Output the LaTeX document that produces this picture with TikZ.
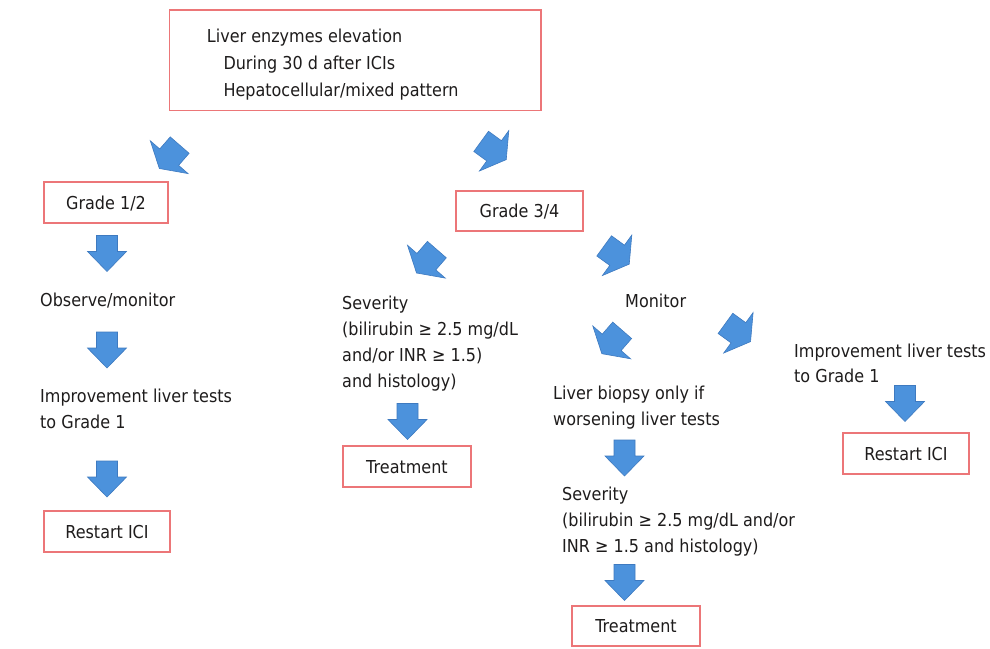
\documentclass[tikz,border=0pt]{standalone}
\usepackage{fontspec}
\setmainfont{DejaVu Sans}[FakeStretch=0.9]
\definecolor{boxc}{RGB}{236,118,120}
\definecolor{arrowc}{RGB}{76,146,220}
\definecolor{arrowd}{RGB}{62,122,192}
\definecolor{textc}{RGB}{30,28,28}
\tikzset{
  txt/.style={anchor=base west, inner sep=0pt, text=textc, font=\fontsize{17.8}{26}\selectfont},
  redbox/.style={draw=boxc, line width=1.5pt, fill=white, inner sep=0pt, text=textc,
    text height=13pt, text depth=0pt, align=center, font=\fontsize{17.8}{26}\selectfont},
  blk/.style={fill=arrowc, draw=arrowd, line width=0.6pt, line join=miter},
  downarrow/.pic={\path[blk] (-10.5,-18) -- (10.5,-18) -- (10.5,-2) -- (19.5,-2) -- (0,18) -- (-19.5,-2) -- (-10.5,-2) -- cycle;},
  diagarrow/.pic={\path[blk] (-12.5,-15.5) -- (12.5,-15.5) -- (12.5,0.5) -- (25,0.5) -- (0,15.5) -- (-25,0.5) -- (-12.5,0.5) -- cycle;}
}
\begin{document}
\begin{tikzpicture}[x=1pt,y=-1pt]
\useasboundingbox (0,0) rectangle (990,648);
\fill[white] (0,0) rectangle (990,648);

% top box
\node[redbox, minimum width=371.7pt, minimum height=100.7pt] (top) at (355.2,60.35) {};
\node[txt] (top1) at (206.7,42.7) {Liver enzymes elevation};
\node[txt] (top2) at (223.3,69.3) {During 30 d after ICIs};
\node[txt] (top3) at (223.3,96) {Hepatocellular/mixed pattern};

% boxes
\node[redbox, minimum width=124pt, minimum height=41pt] (g12) at (106,202.5) {Grade 1/2};
\node[redbox, minimum width=127pt, minimum height=40pt] (g34) at (519.5,211) {Grade 3/4};
\node[redbox, minimum width=126pt, minimum height=41pt] (rL) at (107,531.5) {Restart ICI};
\node[redbox, minimum width=128pt, minimum height=41pt] (tL) at (407,466.5) {Treatment};
\node[redbox, minimum width=128pt, minimum height=40pt] (tR) at (636,626) {Treatment};
\node[redbox, minimum width=126pt, minimum height=41pt] (rR) at (906,453.5) {Restart ICI};

% free texts
\node[txt] (obs) at (40,306.5) {Observe/monitor};
\node[txt] (imp1) at (40,402.5) {Improvement liver tests};
\node[txt] (imp2) at (40,428.5) {to Grade 1};
\node[txt] (sevL1) at (342,309.5) {Severity};
\node[txt] (sevL2) at (342,335.5) {(bilirubin ≥ 2.5 mg/dL};
\node[txt] (sevL3) at (342,361.5) {and/or INR ≥ 1.5)};
\node[txt] (sevL4) at (342,387.5) {and histology)};
\node[txt] (mon) at (625,307) {Monitor};
\node[txt] (bio1) at (553,399.3) {Liver biopsy only if};
\node[txt] (bio2) at (553,425) {worsening liver tests};
\node[txt] (sevR1) at (562,500) {Severity};
\node[txt] (sevR2) at (562,526) {(bilirubin ≥ 2.5 mg/dL and/or};
\node[txt] (sevR3) at (562,552) {INR ≥ 1.5 and histology)};
\node[txt] (impR1) at (794,357) {Improvement liver tests};
\node[txt] (impR2) at (794,382) {to Grade 1};

% diagonal block arrows
\pic[rotate=-41] at (169.5,156.8) {diagarrow};
\pic[rotate=54] at (493.7,150.5) {diagarrow};
\pic[rotate=-41] at (426.7,261.3) {diagarrow};
\pic[rotate=54] at (616.7,255) {diagarrow};
\pic[rotate=-41] at (612,342) {diagarrow};
\pic[rotate=54] at (738,332.5) {diagarrow};

% vertical block arrows
\pic at (107,253.5) {downarrow};
\pic at (107,350) {downarrow};
\pic at (107,479) {downarrow};
\pic at (407.5,421.5) {downarrow};
\pic at (624.5,458) {downarrow};
\pic at (624.5,582.5) {downarrow};
\pic at (905,403.5) {downarrow};
\end{tikzpicture}
\end{document}
